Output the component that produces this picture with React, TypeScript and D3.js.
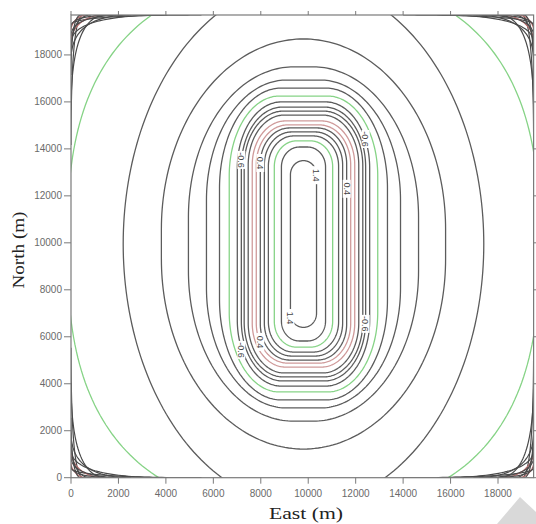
import * as d3 from 'd3'

// contour loops around the centre, in metres (half sizes + corner radii)
const centreEast = 9800
const centreNorth = 9950
const loopLevels = [1.4, 1.2, 1.0, 0.8, 0.6, 0.4, 0.2, 0.0, -0.2, -0.4, -0.6, -0.8, -1.0, -1.2, -1.4, -1.6, -1.8, -2.0, -2.2]
const loopHalfWidth = [550, 930, 1230, 1480, 1650, 1820, 1990, 2160, 2330, 2500, 2620, 2790, 3130, 3540, 4090, 4850, 5990, 7600, 9950]
const loopHalfHeight = [3550, 4130, 4390, 4600, 4770, 4940, 5070, 5240, 5490, 5660, 5830, 6050, 6300, 6640, 6980, 7540, 8730, 11160, 11290]
const loopCornerE = [550, 760, 930, 1060, 1140, 1230, 1310, 1400, 1520, 1650, 1730, 1860, 2110, 2610, 3370, 4430, 5990, 7600, 9950]
const loopCornerN = [600, 850, 1100, 1280, 1400, 1530, 1700, 1870, 2130, 2340, 2550, 2810, 3400, 4260, 5110, 6390, 8090, 11160, 11290]
const loopShape = [2, 2, 2, 2, 2, 2, 2, 2, 2, 2, 2, 2, 2, 2, 2, 2, 2, 2, 2.6]

// corner clusters: reach along the horizontal / vertical edge (m)
const cornerReachE = [4060, 2540, 5500, 1480, 510, 1270, 630, 1900, 420, 850, 2300]
const cornerReachN = [1190, 1910, 430, 4040, 5530, 1060, 640, 510, 2550, 1700, 900]
const cornerShape = [0.5, 0.5, 0.5, 0.5, 0.5, 0.6, 0.6, 0.5, 0.5, 0.5, 0.5]
const cornerKind = ['k', 'k', 'k', 'k', 'k', 'r', 'r', 'k', 'k', 'k', 'k']

// inline labels
const labelText = ['-0.6', '0.4', '-0.6', '0.4', '-0.6', '-0.6', '0.4', '1.4', '1.4']
const labelLevel = [-0.6, 0.4, -0.6, 0.4, -0.6, -0.6, 0.4, 1.4, 1.4]
const labelSide = [-1, -1, -1, -1, 1, 1, 1, 1, -1]
const labelNorth = [13530, 13400, 5440, 5780, 14420, 6550, 12300, 12880, 6800]

const axisTicks = [0, 2000, 4000, 6000, 8000, 10000, 12000, 14000, 16000, 18000]

const W = 536
const H = 524
const x = d3.scaleLinear().domain([0, 19500]).range([71, 533.6])
const y = d3.scaleLinear().domain([0, 19700]).range([477.7, 15])

const GRAY = '#5c5c5c'
const GREEN = '#86d386'
const RED = '#cf9a9a'

function levelColor(v: number) {
  if (Math.abs(Math.abs(v) - 1) < 1e-6 || Math.abs(v + 2.2) < 1e-6) return GREEN
  if (Math.abs(v - 0.2) < 1e-6 || Math.abs(v) < 1e-6) return RED
  return GRAY
}

const spow = (v: number, p: number) => Math.sign(v) * Math.pow(Math.abs(v), p)

function loopPoints(i: number): [number, number][] {
  const w = loopHalfWidth[i], h = loopHalfHeight[i]
  const rx = loopCornerE[i], ry = loopCornerN[i]
  const p = 2 / loopShape[i]
  const pts: [number, number][] = []
  const quads: [number, number][] = [[1, 1], [-1, 1], [-1, -1], [1, -1]]
  quads.forEach(([sx, sy], q) => {
    for (let k = 0; k <= 60; k++) {
      const t = (q * Math.PI) / 2 + (k / 60) * (Math.PI / 2)
      pts.push([
        centreEast + sx * (w - rx) + rx * spow(Math.cos(t), p),
        centreNorth + sy * (h - ry) + ry * spow(Math.sin(t), p),
      ])
    }
  })
  return pts
}

function cornerPoints(i: number, ce: number, cn: number, dx: number, dy: number): [number, number][] {
  const p = 2 / cornerShape[i]
  const pts: [number, number][] = []
  for (let k = 0; k <= 60; k++) {
    const t = (k / 60) * (Math.PI / 2)
    pts.push([ce + dx * cornerReachE[i] * Math.pow(Math.cos(t), p), cn + dy * cornerReachN[i] * Math.pow(Math.sin(t), p)])
  }
  return pts
}

const line = d3.line<[number, number]>().x(d => x(d[0])).y(d => y(d[1]))
const closedLine = d3.line<[number, number]>().x(d => x(d[0])).y(d => y(d[1])).curve(d3.curveLinearClosed)

export default function App() {
  const corners: [number, number, number, number][] = [
    [0, 19700, 1, -1],
    [19500, 19700, -1, -1],
    [0, 0, 1, 1],
    [19500, 0, -1, 1],
  ]
  const x0 = x(0), x1 = x(19500), yTop = y(19700), yBot = y(0)

  return (
    <svg width={W} height={H} style={{ position: 'absolute', left: 0, top: 0, background: '#fff' }}
      fontFamily="'Liberation Sans', Arial, sans-serif">
      <defs>
        <clipPath id="plot">
          <rect x={x0} y={yTop} width={x1 - x0} height={yBot - yTop} />
        </clipPath>
      </defs>

      <g clipPath="url(#plot)" fill="none">
        {loopLevels.map((v, i) => (
          <path key={'l' + i} d={closedLine(loopPoints(i)) ?? ''} stroke={levelColor(v)} strokeWidth={1.3} />
        ))}
        {corners.map(([ce, cn, dx, dy], c) =>
          cornerReachE.map((_, i) => (
            <path key={'c' + c + '-' + i} d={line(cornerPoints(i, ce, cn, dx, dy)) ?? ''}
              stroke={cornerKind[i] === 'r' ? '#b86a6a' : '#4a4a4a'} strokeWidth={1.2} />
          ))
        )}
      </g>

      {labelText.map((t, i) => {
        const e = centreEast + labelSide[i] * loopHalfWidth[loopLevels.indexOf(labelLevel[i])]
        const px = x(e), py = y(labelNorth[i])
        return (
          <g key={'t' + i} transform={`translate(${px},${py}) rotate(90)`}>
            <rect x={-9} y={-4} width={18} height={8} fill="#fff" />
            <text fontSize={9} fill="#444" textAnchor="middle" dy="0.35em">{t}</text>
          </g>
        )
      })}

      {/* frame */}
      <rect x={x0} y={yTop} width={x1 - x0} height={yBot - yTop} fill="none" stroke="#7a7a7a" strokeWidth={1.2} />

      {/* left axis */}
      {axisTicks.map(t => (
        <g key={'ly' + t}>
          <line x1={x0 - 7} x2={x0} y1={y(t)} y2={y(t)} stroke="#7a7a7a" />
          <text x={x0 - 9} y={y(t)} dy="0.35em" textAnchor="end" fontSize={10} fill="#6a6a6a">{t}</text>
        </g>
      ))}
      {/* bottom axis */}
      {axisTicks.map(t => (
        <g key={'bx' + t}>
          <line x1={x(t)} x2={x(t)} y1={yBot} y2={yBot + 6} stroke="#7a7a7a" />
          <text x={x(t)} y={yBot + 19} textAnchor="middle" fontSize={10} fill="#6a6a6a">{t}</text>
        </g>
      ))}
      {/* top / right ticks */}
      {axisTicks.map(t => (
        <line key={'tx' + t} x1={x(t)} x2={x(t)} y1={yTop} y2={yTop - 4} stroke="#7a7a7a" />
      ))}
      {axisTicks.map(t => (
        <line key={'ry' + t} x1={x1} x2={x1 + 4} y1={y(t)} y2={y(t)} stroke="#7a7a7a" />
      ))}

      <text x={306} y={519} textAnchor="middle" fontSize={17} fontFamily="'Liberation Serif', 'Times New Roman', serif"
        fill="#222" textLength={74} lengthAdjust="spacingAndGlyphs">East (m)</text>
      <text transform="translate(24,250) rotate(-90)" textAnchor="middle" fontSize={17}
        fontFamily="'Liberation Serif', 'Times New Roman', serif" fill="#222" textLength={77}
        lengthAdjust="spacingAndGlyphs">North (m)</text>

      <polygon points="497,524 520,497 536,512 536,524" fill="#d9d9d9" />
    </svg>
  )
}
